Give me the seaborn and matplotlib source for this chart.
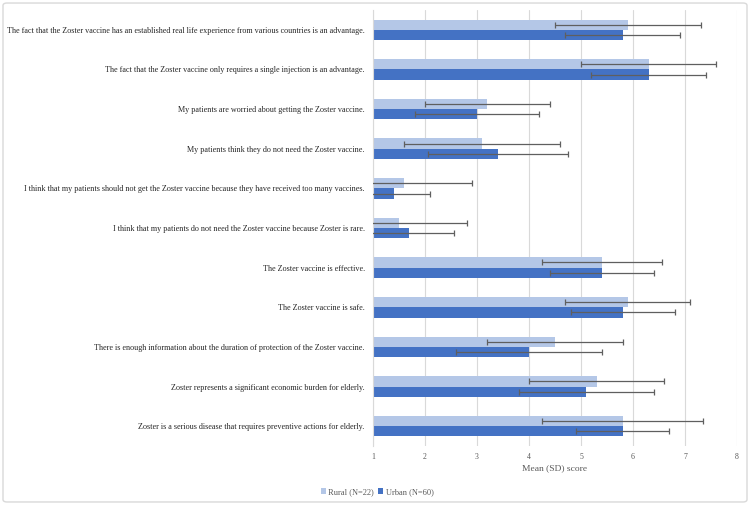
import numpy as np
import pandas as pd
import matplotlib
matplotlib.use("Agg")
import matplotlib.pyplot as plt
import seaborn as sns
from matplotlib.patches import FancyBboxPatch

statements = [
    "The fact that the Zoster vaccine has an established real life experience from various countries is an advantage.",
    "The fact that the Zoster vaccine only requires a single injection is an advantage.",
    "My patients are worried about getting the Zoster vaccine.",
    "My patients think they do not need the Zoster vaccine.",
    "I think that my patients should not get the Zoster vaccine because they have received too many vaccines.",
    "I think that my patients do not need the Zoster vaccine because Zoster is rare.",
    "The Zoster vaccine is effective.",
    "The Zoster vaccine is safe.",
    "There is enough information about the duration of protection of the Zoster vaccine.",
    "Zoster represents a significant economic burden for elderly.",
    "Zoster is a serious disease that requires preventive actions for elderly.",
]

groups = ["Rural (N=22)", "Urban (N=60)"]

rural_mean = [5.9, 6.3, 3.2, 3.1, 1.6, 1.5, 5.4, 5.9, 4.5, 5.3, 5.8]
rural_sd = [1.4, 1.3, 1.2, 1.5, 1.3, 1.3, 1.15, 1.2, 1.3, 1.3, 1.55]
urban_mean = [5.8, 6.3, 3.0, 3.4, 1.4, 1.7, 5.4, 5.8, 4.0, 5.1, 5.8]
urban_sd = [1.1, 1.1, 1.2, 1.35, 0.7, 0.85, 1.0, 1.0, 1.4, 1.3, 0.9]

colors = ["#b4c7e7", "#4472c4"]

df = pd.DataFrame({
    "statement": statements * 2,
    "group": [groups[0]] * len(statements) + [groups[1]] * len(statements),
    "mean": rural_mean + urban_mean,
    "sd": rural_sd + urban_sd,
})

sns.set_style("white")
plt.rcParams["font.family"] = ["Liberation Serif", "DejaVu Serif"]

fig = plt.figure(figsize=(7.5, 5.05), dpi=100)
ax = fig.add_axes([373 / 750, 1 - 446 / 505, (737 - 373) / 750, 436 / 505])

sns.barplot(data=df, y="statement", x="mean", hue="group", order=statements,
            hue_order=groups, palette=colors, orient="h", width=0.52,
            errorbar=None, saturation=1, linewidth=0, ax=ax, zorder=2)

# error bars at the centre of every bar seaborn drew
for cont, grp in zip(ax.containers, groups):
    sub = df[df["group"] == grp].set_index("statement").loc[statements]
    ys = [p.get_y() + p.get_height() / 2 for p in cont.patches]
    ax.errorbar(sub["mean"].values, ys, xerr=sub["sd"].values, fmt="none",
                ecolor="#5f5f5f", elinewidth=0.9, capsize=2, capthick=0.9, zorder=3)

ax.set_xlim(1, 8)
ax.set_ylim(len(statements) - 0.5, -0.5)
ax.set_xticks(range(1, 9))
ax.xaxis.grid(True, color="#d9d9d9", lw=0.8)
ax.set_axisbelow(True)
for s in ["top", "right", "bottom"]:
    ax.spines[s].set_visible(False)
ax.spines["left"].set_color("#d9d9d9")
ax.tick_params(axis="y", length=0, pad=6, labelsize=5.9, labelcolor="#262626")
ax.tick_params(axis="x", length=0, pad=5, labelsize=5.6, labelcolor="#595959")
ax.set_ylabel("")
ax.set_xlabel("Mean (SD) score", fontsize=6.8, color="#595959", labelpad=2)

handles, labels = ax.get_legend_handles_labels()
ax.legend_.remove()
fig.legend(handles, labels, loc="center", bbox_to_anchor=(377 / 750, 1 - 492 / 505),
           ncol=2, frameon=False, fontsize=6, handlelength=0.6, handleheight=0.6,
           handletextpad=0.3, columnspacing=0.5, labelcolor="#595959")

fig.patches.append(FancyBboxPatch((0.004, 0.006), 0.992, 0.988,
                                  boxstyle="round,pad=0,rounding_size=0.005",
                                  transform=fig.transFigure, fill=False,
                                  edgecolor="#d9d9d9", lw=1))

fig.savefig("out.png", dpi=100)
